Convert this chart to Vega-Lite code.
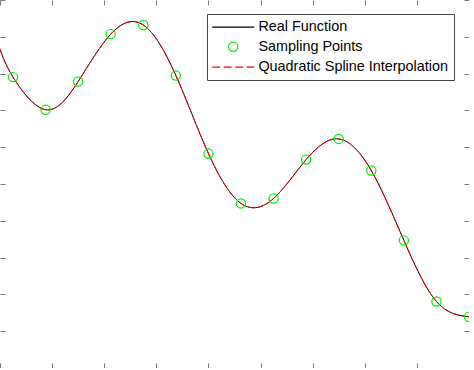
{
  "$schema": "https://vega.github.io/schema/vega-lite/v6.json",
  "width": 469,
  "height": 368,
  "padding": 0,
  "autosize": {"type": "none"},
  "background": "white",
  "config": {
    "view": {"stroke": null},
    "axis": {"labels": false, "title": null, "grid": false, "tickSize": -5, "tickColor": "#777777", "domainColor": "#808080", "tickWidth": 1, "domainWidth": 1},
    "legend": {
      "orient": "none", "legendX": 207, "legendY": 14,
      "strokeColor": "#444444", "fillColor": "white", "padding": 6,
      "symbolSize": 110, "symbolStrokeWidth": 1.2, "symbolOffset": 13,
      "labelFontSize": 14.4, "labelFont": "Liberation Sans", "labelColor": "black",
      "labelOffset": 18, "labelLimit": 0, "rowPadding": 4.5
    }
  },
  "datasets": {
    "curve": [
      {"x": 0, "y": 8.672},
      {"x": 0.25, "y": 7.905},
      {"x": 0.875, "y": 7.019},
      {"x": 1.5, "y": 7.786},
      {"x": 2.125, "y": 9.073},
      {"x": 2.75, "y": 9.322},
      {"x": 3.375, "y": 7.949},
      {"x": 4.0, "y": 5.827},
      {"x": 4.625, "y": 4.472},
      {"x": 5.25, "y": 4.607},
      {"x": 5.875, "y": 5.664},
      {"x": 6.5, "y": 6.225},
      {"x": 7.125, "y": 5.366},
      {"x": 7.75, "y": 3.469},
      {"x": 8.375, "y": 1.808},
      {"x": 9.0, "y": 1.39}
    ],
    "samples": [
      {"x": 0.25, "y": 7.905, "series": "Sampling Points"},
      {"x": 0.875, "y": 7.019, "series": "Sampling Points"},
      {"x": 1.5, "y": 7.786, "series": "Sampling Points"},
      {"x": 2.125, "y": 9.073, "series": "Sampling Points"},
      {"x": 2.75, "y": 9.322, "series": "Sampling Points"},
      {"x": 3.375, "y": 7.949, "series": "Sampling Points"},
      {"x": 4.0, "y": 5.827, "series": "Sampling Points"},
      {"x": 4.625, "y": 4.472, "series": "Sampling Points"},
      {"x": 5.25, "y": 4.607, "series": "Sampling Points"},
      {"x": 5.875, "y": 5.664, "series": "Sampling Points"},
      {"x": 6.5, "y": 6.225, "series": "Sampling Points"},
      {"x": 7.125, "y": 5.366, "series": "Sampling Points"},
      {"x": 7.75, "y": 3.469, "series": "Sampling Points"},
      {"x": 8.375, "y": 1.808, "series": "Sampling Points"},
      {"x": 9.0, "y": 1.39, "series": "Sampling Points"}
    ]
  },
  "resolve": {"axis": {"x": "independent", "y": "independent"}},
  "layer": [
    {
      "data": {"name": "curve"},
      "mark": {"type": "line", "color": "black", "strokeWidth": 1, "interpolate": "natural"},
      "encoding": {
        "x": {"field": "x", "type": "quantitative", "scale": {"domain": [0, 9], "nice": false, "zero": false}, "axis": {"orient": "bottom", "values": [0,1,2,3,4,5,6,7,8,9], "domain": true}},
        "y": {"field": "y", "type": "quantitative", "scale": {"domain": [0, 10], "nice": false, "zero": false}, "axis": {"orient": "left", "values": [0,1,2,3,4,5,6,7,8,9,10], "domain": false}}
      }
    },
    {
      "data": {"name": "curve"},
      "mark": {"type": "line", "color": "#ff0000", "strokeWidth": 1, "strokeDash": [6, 3], "interpolate": "natural"},
      "encoding": {
        "x": {"field": "x", "type": "quantitative", "axis": {"orient": "top", "values": [0,1,2,3,4,5,6,7,8,9], "domain": false}},
        "y": {"field": "y", "type": "quantitative", "axis": {"orient": "right", "values": [0,1,2,3,4,5,6,7,8,9,10], "domain": true}}
      }
    },
    {
      "data": {"name": "samples"},
      "mark": {"type": "point", "filled": false, "size": 110, "strokeWidth": 1.2, "opacity": 1},
      "encoding": {
        "x": {"field": "x", "type": "quantitative", "axis": null},
        "y": {"field": "y", "type": "quantitative", "axis": null},
        "color": {"field": "series", "type": "nominal",
          "scale": {"domain": ["Real Function", "Sampling Points", "Quadratic Spline Interpolation"], "range": ["black", "#00ee00", "#ff0000"]},
          "legend": {"title": null}},
        "shape": {"field": "series", "type": "nominal",
          "scale": {"domain": ["Real Function", "Sampling Points", "Quadratic Spline Interpolation"], "range": ["M-4,0H4", "M0.88,0A0.88,0.88 0 1,1 -0.88,0A0.88,0.88 0 1,1 0.88,0Z", "M-4,0H-2.5M-1.8,0H-0.3M0.4,0H1.9M2.6,0H4"]},
          "legend": {"title": null}}
      }
    }
  ]
}
